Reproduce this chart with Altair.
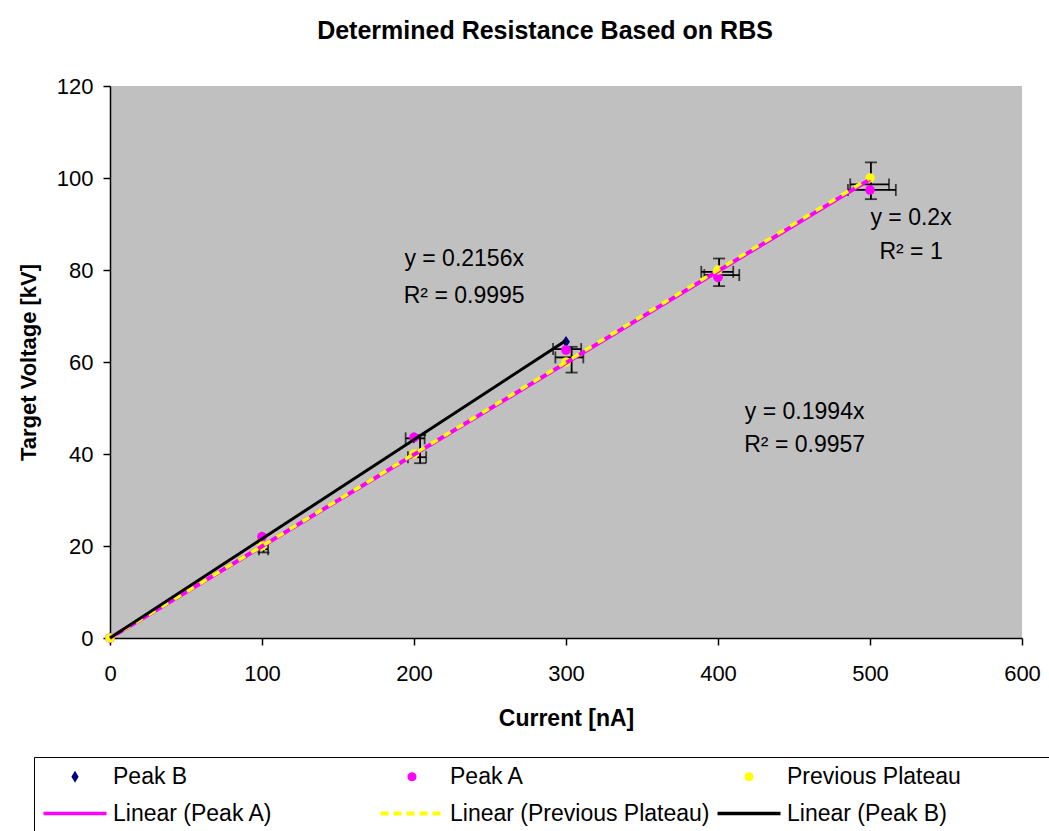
import math
import altair as alt
import pandas as pd

# ---------------- data ----------------
current = [0, 100, 200, 300, 400, 500]
peak_b_x = [0, 100, 200, 300]
peak_b_y = [0, 21.9, 43.5, 64.4]
peak_a_y = [0, 22.0, 43.6, 62.6, 78.4, 97.4]
plateau_y = [0, 20, 40, 60, 80, 100]

trend_names = ["Linear (Peak A)", "Linear (Previous Plateau)", "Linear (Peak B)"]
trend_slopes = [0.1994, 0.2, 0.2156]
trend_xmax = [500, 500, 300]

# vertical error bars (x, low, high)
verr_x = [101, 204, 303.7, 400.7, 500.6]
verr_lo = [18.6, 38.0, 57.7, 76.5, 95.4]
verr_hi = [20.6, 44.1, 63.3, 82.5, 103.4]
# horizontal error bars (y, low, high)
herr_y = [19.3, 43.4, 39.3, 62.8, 61.0, 79.6, 78.9, 98.6, 97.4]
herr_lo = [98, 194.5, 196, 291.5, 293, 389, 391, 487, 485.5]
herr_hi = [104, 207, 208, 310, 311.4, 410, 414, 512.5, 517]

# trendline equation annotations
ann_text = ["y = 0.2156x", "R\u00b2 = 0.9995", "y = 0.1994x", "R\u00b2 = 0.9957", "y = 0.2x", "R\u00b2 = 1"]
ann_x = [233, 233, 457, 457, 527, 527]
ann_y = [82.4, 74.3, 49.1, 42.0, 91.3, 83.9]

legend_names = ["Peak B", "Peak A", "Previous Plateau",
                "Linear (Peak A)", "Linear (Previous Plateau)", "Linear (Peak B)"]
legend_colors = ["#000080", "#FF00FF", "#FFFF00", "#FF00FF", "#FFFF00", "#000000"]

x_ticks = [0, 100, 200, 300, 400, 500, 600]
y_ticks = [0, 20, 40, 60, 80, 100, 120]

# ---------------- styling ----------------
FONT = "Liberation Sans"
FS = 22
NAVY, MAGENTA, YELLOW = "#000080", "#FF00FF", "#FFFF00"

# legend symbol shapes: 20px slot (1 unit = 10px), drawn across a 63px strip
def circle_path(cx, r, n=20):
    pts = [(cx + r * math.cos(2 * math.pi * i / n), r * math.sin(2 * math.pi * i / n)) for i in range(n)]
    return "M" + "L".join(f"{px:.4f},{py:.4f}" for px, py in pts) + "Z"

def rect(x0, x1, h):
    return f"M{x0:.3f},{-h:.3f}H{x1:.3f}V{h:.3f}H{x0:.3f}Z"

C = 2.15
diamond_leg = f"M{C},-0.6L{C + 0.36},0L{C},0.6L{C - 0.36},0Z"
line_leg = rect(-1, 5.3, 0.17)
dash_leg = " ".join(rect(a, a + 0.8, 0.2) for a in [-1, 0.3, 1.6, 2.9, 4.2])
black_leg = rect(-1, 5.3, 0.17)
# the last column's entry carries an empty move-to so the legend frame runs past the right edge
legend_shapes = [diamond_leg, circle_path(C, 0.45), circle_path(C, 0.45) + " M31.7,0",
                 line_leg, dash_leg, black_leg]

xs = alt.Scale(domain=[0, 600], nice=False, zero=False)
ys = alt.Scale(domain=[0, 120], nice=False, zero=False)

x_axis = alt.Axis(values=x_ticks, title="Current [nA]", grid=False, tickSize=7,
                  labelFlush=False, labelOverlap=False, labelPadding=18, titlePadding=23,
                  titleFontSize=23)
y_axis = alt.Axis(values=y_ticks, title="Target Voltage [kV]", grid=False, tickSize=7,
                  labelFlush=False, labelOverlap=False, labelPadding=10, titlePadding=16)

X = lambda f="x": alt.X(f"{f}:Q", scale=xs, axis=x_axis)
Y = lambda f="y": alt.Y(f"{f}:Q", scale=ys, axis=y_axis)

# ---------------- error bars ----------------
vdf = pd.DataFrame({"x": verr_x, "lo": verr_lo, "hi": verr_hi})
hdf = pd.DataFrame({"y": herr_y, "lo": herr_lo, "hi": herr_hi})
EW = 1.8
v_rule = alt.Chart(vdf).mark_rule(color="black", strokeWidth=EW).encode(
    x=X("x"), y=Y("lo"), y2="hi:Q")
v_cap_lo = alt.Chart(vdf).mark_tick(color="black", orient="horizontal", size=12, thickness=EW).encode(
    x=X("x"), y=Y("lo"))
v_cap_hi = alt.Chart(vdf).mark_tick(color="black", orient="horizontal", size=12, thickness=EW).encode(
    x=X("x"), y=Y("hi"))
h_rule = alt.Chart(hdf).mark_rule(color="black", strokeWidth=EW).encode(
    y=Y("y"), x=X("lo"), x2="hi:Q")
h_cap_lo = alt.Chart(hdf).mark_tick(color="black", orient="vertical", size=12, thickness=EW).encode(
    y=Y("y"), x=X("lo"))
h_cap_hi = alt.Chart(hdf).mark_tick(color="black", orient="vertical", size=12, thickness=EW).encode(
    y=Y("y"), x=X("hi"))

# ---------------- points ----------------
pb = pd.DataFrame({"x": peak_b_x, "y": peak_b_y})
pa = pd.DataFrame({"x": current, "y": peak_a_y})
pp = pd.DataFrame({"x": current, "y": plateau_y})

pts_b = alt.Chart(pb).mark_point(filled=True, opacity=1, color=NAVY, size=130,
                                 shape="M0,-1L0.7,0L0,1L-0.7,0Z").encode(x=X(), y=Y())
pts_a = alt.Chart(pa).mark_point(filled=True, opacity=1, color=MAGENTA, size=95,
                                 shape="circle").encode(x=X(), y=Y())
pts_p = alt.Chart(pp).mark_point(filled=True, opacity=1, color=YELLOW, size=90,
                                 shape="circle").encode(x=X(), y=Y())

# ---------------- trendlines ----------------
def trend_df(i):
    return pd.DataFrame({"x": [0, trend_xmax[i]],
                         "y": [0, trend_slopes[i] * trend_xmax[i]]})

tr_a = alt.Chart(trend_df(0)).mark_line(color=MAGENTA, strokeWidth=4).encode(x=X(), y=Y())
tr_p = alt.Chart(trend_df(1)).mark_line(color=YELLOW, strokeWidth=3.5, strokeDash=[8, 7]).encode(x=X(), y=Y())
tr_b = alt.Chart(trend_df(2)).mark_line(color="black", strokeWidth=3).encode(x=X(), y=Y())

# ---------------- annotations ----------------
adf = pd.DataFrame({"t": ann_text, "x": ann_x, "y": ann_y})
ann = alt.Chart(adf).mark_text(font=FONT, fontSize=23, color="black", align="center",
                               baseline="middle").encode(x=X(), y=Y(), text="t:N")

# ---------------- legend (driven by scale domains) ----------------
ldf = pd.DataFrame({"series": legend_names, "x": [0] * 6, "y": [0] * 6})
leg_kwargs = dict(title=None, orient="none", legendX=-76, legendY=671, columns=3, gridAlign="all",
                  direction="horizontal",
                  symbolSize=400, symbolStrokeWidth=0, symbolOpacity=1, symbolOffset=0,
                  labelFont=FONT, labelFontSize=23, labelColor="black", labelLimit=600,
                  labelOffset=48, columnPadding=6, rowPadding=13, padding=8,
                  strokeColor="black", fillColor="white")
legend_layer = alt.Chart(ldf).transform_filter("false").mark_point(
    filled=True, opacity=1, size=64).encode(
    x=X(), y=Y(),
    color=alt.Color("series:N", scale=alt.Scale(domain=legend_names, range=legend_colors),
                    legend=alt.Legend(**leg_kwargs)),
    shape=alt.Shape("series:N", scale=alt.Scale(domain=legend_names, range=legend_shapes),
                    legend=alt.Legend(**leg_kwargs)),
)

chart = alt.layer(
    v_rule, v_cap_lo, v_cap_hi, h_rule, h_cap_lo, h_cap_hi,
    pts_b, pts_a, pts_p,
    tr_a, tr_p, tr_b,
    ann, legend_layer,
).properties(
    width=912, height=552,
    title=alt.TitleParams("Determined Resistance Based on RBS", font=FONT, fontSize=25,
                          fontWeight="bold", color="black", anchor="middle", frame="group",
                          dx=-21, offset=31),
    padding={"left": 110, "top": 86, "right": 27, "bottom": 193},
    autosize=alt.AutoSizeParams(type="none"),
    background="white",
).configure_view(
    fill="#C0C0C0", strokeWidth=0,
).configure_axis(
    labelFont=FONT, labelFontSize=FS, labelColor="black",
    titleFont=FONT, titleFontSize=FS, titleFontWeight="bold", titleColor="black",
    domainColor="black", tickColor="black", domainWidth=1.5, tickWidth=1.5,
)

chart.save("out.html", embed_options={"renderer": "svg", "actions": False})
